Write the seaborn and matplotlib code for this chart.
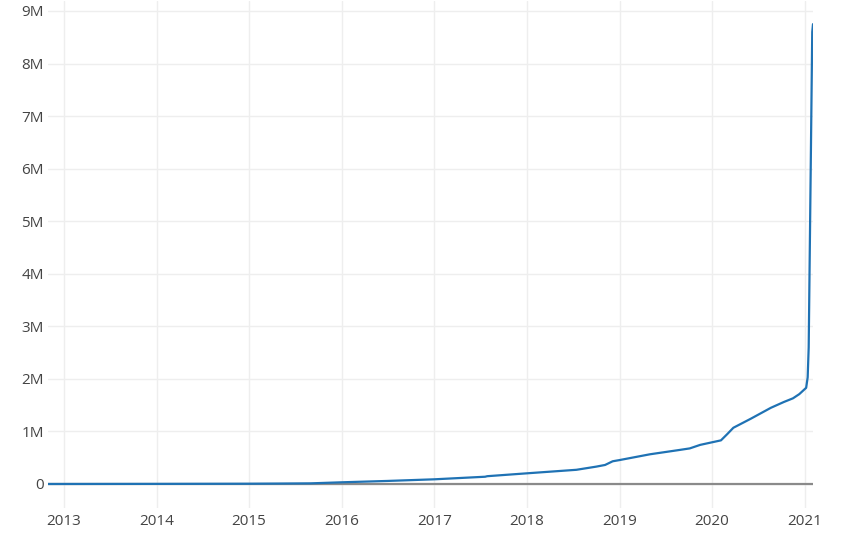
import pandas as pd
import numpy as np
import matplotlib
matplotlib.use("Agg")
import matplotlib.pyplot as plt
import matplotlib.dates as mdates
import matplotlib.ticker as mticker
import seaborn as sns

# cumulative count
dates = ["2012-10-30", "2014-01-01", "2015-01-01", "2015-05-01", "2015-09-01",
         "2016-01-01", "2016-07-01", "2017-01-01", "2017-07-20", "2017-07-28",
         "2018-01-01", "2018-07-15", "2018-10-01", "2018-11-05", "2018-12-05",
         "2019-01-01", "2019-05-01", "2019-08-25", "2019-10-05", "2019-11-15",
         "2020-02-05", "2020-03-01", "2020-03-25", "2020-06-01", "2020-08-20",
         "2020-10-10", "2020-11-15", "2020-12-10", "2021-01-06", "2021-01-12",
         "2021-01-16", "2021-01-24", "2021-01-30", "2021-02-02"]
values = [0, 2e3, 5e3, 8e3, 12e3,
          32e3, 58e3, 89e3, 138e3, 148e3,
          203e3, 270e3, 330e3, 362e3, 432e3,
          455e3, 565e3, 647e3, 677e3, 744e3,
          830e3, 950e3, 1.07e6, 1.24e6, 1.45e6,
          1.56e6, 1.63e6, 1.71e6, 1.83e6, 2.03e6,
          2.6e6, 6.0e6, 8.6e6, 8.75e6]

df = pd.DataFrame({"date": pd.to_datetime(dates), "count": values})

sns.set_style("white")
plt.rcParams['font.family'] = ['Open Sans', 'DejaVu Sans']

fig = plt.figure(figsize=(8.5, 5.46), dpi=100)
ax = fig.add_axes([48 / 850, 1 - 508 / 546, 765 / 850, 507 / 546])

ax.grid(True, color="#eeeeee", linewidth=1)
ax.axhline(0, color="#8a8a8a", linewidth=1.6, zorder=2)
sns.lineplot(data=df, x="date", y="count", ax=ax, color="#1f72b4", linewidth=1.6, zorder=3)

ax.set_xlim(pd.Timestamp("2012-10-30"), pd.Timestamp("2021-02-02"))
ax.set_ylim(-0.457e6, 9.19e6)
ax.xaxis.set_major_locator(mdates.YearLocator())
ax.xaxis.set_major_formatter(mdates.DateFormatter("%Y"))
ax.yaxis.set_major_locator(mticker.MultipleLocator(1e6))
ax.yaxis.set_major_formatter(mticker.FuncFormatter(lambda v, p: "0" if v == 0 else f"{int(round(v / 1e6))}M"))

ax.tick_params(axis="both", length=0, labelsize=11, labelcolor="#444444")
ax.tick_params(axis="y", pad=3)
ax.tick_params(axis="x", pad=4)
ax.set_xlabel("")
ax.set_ylabel("")
for s in ax.spines.values():
    s.set_visible(False)

fig.savefig("out.png", dpi=100)
